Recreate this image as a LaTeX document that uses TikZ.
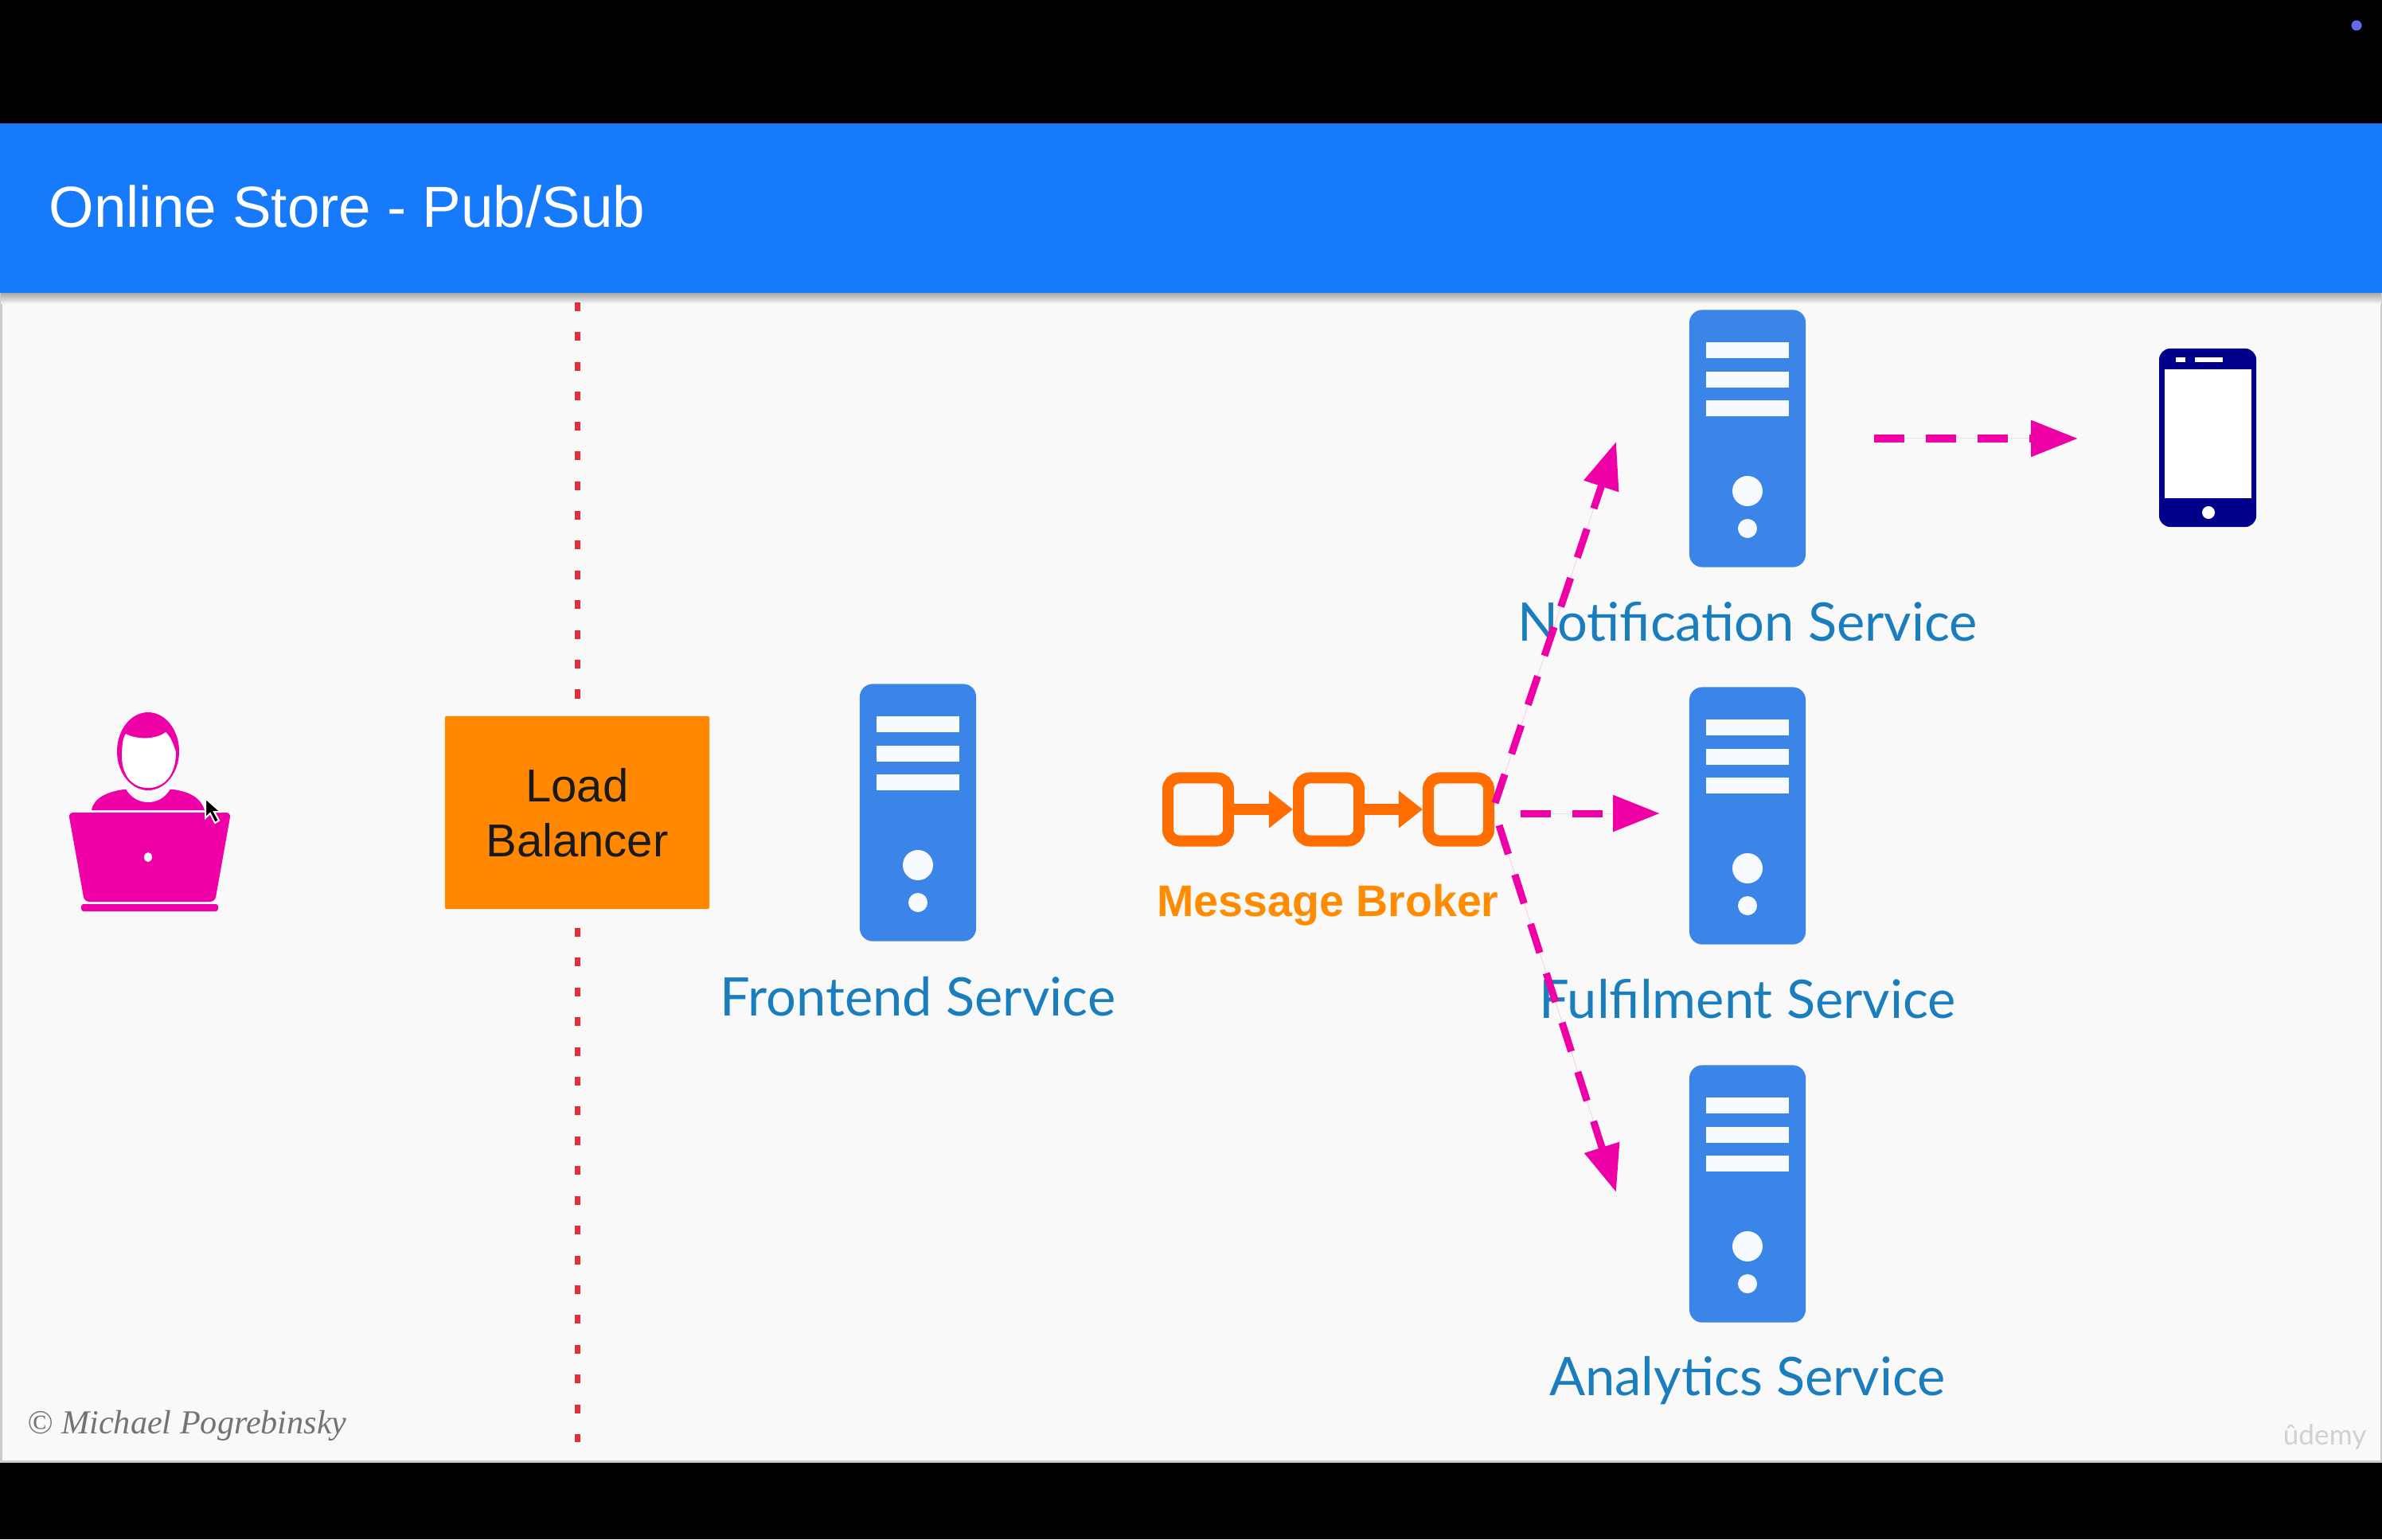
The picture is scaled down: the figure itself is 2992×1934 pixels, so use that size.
\documentclass[tikz,border=0pt]{standalone}
\usepackage{fontspec}
\usetikzlibrary{arrows.meta,shapes.geometric}
\setmainfont{Liberation Sans}
\newfontfamily\latofont{Lato}
\newfontfamily\serifit{Liberation Serif}
\definecolor{hdrblue}{HTML}{167AFA}
\definecolor{slidebg}{HTML}{F9F9F9}
\definecolor{srvblue}{HTML}{3B85E8}
\definecolor{srvtext}{HTML}{1A7DBE}
\definecolor{mbcol}{HTML}{FF6D00}
\definecolor{mbtext}{HTML}{FF8C00}
\definecolor{lbcol}{HTML}{FF8800}
\definecolor{pubcol}{HTML}{EE00A6}
\definecolor{phonecol}{HTML}{00008B}
\definecolor{dotred}{HTML}{E0303A}
\tikzstyle{server}=[rectangle,rounded corners=0.16cm,fill=srvblue,minimum width=1.46cm,minimum height=3.23cm,inner sep=0pt]
\tikzstyle{srvlabel}=[text=srvtext,font=\latofont\fontsize{19}{23}\selectfont,inner sep=0pt]
\tikzstyle{queue}=[rectangle,rounded corners=0.14cm,draw=mbcol,line width=0.14cm,minimum width=0.76cm,minimum height=0.79cm,inner sep=0pt]
\tikzstyle{qarrow}=[draw=mbcol,line width=0.14cm,-{Triangle[length=0.3cm,width=0.45cm]}]
\tikzstyle{pubarrow}=[draw=pubcol,fill=pubcol,line width=0.09cm,dash pattern=on 0.38cm off 0.27cm,-{Triangle[length=0.59cm,width=0.44cm]}]
\tikzstyle{boundary}=[draw=dotred,line width=0.07cm,dash pattern=on 0.11cm off 0.264cm]
\begin{document}
\begin{tikzpicture}[x=0.01cm,y=-0.01cm]
\useasboundingbox (0,0) rectangle (2992,1934);
\fill[black] (0,0) rectangle (2992,1934);
\fill[slidebg,draw=black!20,line width=0.03cm] (1,200) rectangle (2991,1836);
\shade[top color=black!35,bottom color=slidebg] (1,368) rectangle (2991,382);
\fill[hdrblue] (0,155) rectangle (2992,368);
\fill[color={rgb,255:red,107;green,102;blue,240}] (2960,32) circle (6.5);
\node[text=white,anchor=west,inner sep=0pt,font=\fontsize{20.7}{24}\selectfont] (title) at (61,259) {Online Store - Pub/Sub};
% boundary
\coordinate (bndtop) at (725,380);
\coordinate (bndbot) at (725,1812);
\draw[boundary] (bndtop)--(bndbot);
\node[rectangle,fill=lbcol,rounded corners=0.02cm,minimum width=3.32cm,minimum height=2.42cm,align=center,text=black!90,font=\fontsize{16.5}{19.6}\selectfont] (LB) at (725,1021) {Load\\Balancer};
% user
\fill[pubcol] (115,1018) .. controls (118,1002) and (135,995) .. (155,992) -- (218,992) .. controls (238,995) and (252,1002) .. (257,1018) -- cycle;
\fill[slidebg] (186,975) ellipse (32 and 33);
\fill[pubcol] (186,944) ellipse (39 and 49);
\fill[white] (153,950) .. controls (153,935) and (155,926) .. (158,922) .. controls (170,929) and (195,930) .. (208,920) .. controls (214,925) and (218,935) .. (221,945) .. controls (221,975) and (205,990) .. (186,990) .. controls (167,990) and (153,975) .. (153,950) -- cycle;
\fill[pubcol,rounded corners=0.06cm] (86,1021) -- (290,1021) -- (270,1133) -- (106,1133) -- cycle;
\fill[pubcol,rounded corners=0.03cm] (102,1136) rectangle (274,1145);
\fill[white] (186,1077) ellipse (5 and 6);
\fill[black,draw=white,line width=0.02cm] (258,1003) -- (258,1028) -- (264,1022) -- (270,1034) -- (275,1031) -- (269,1020) -- (277,1020) -- cycle;
% services
\foreach \n/\x/\y/\ly/\t in {FE/1153/1021/1252/Frontend Service,NS/2195/551/781/Notification Service,FS/2195/1025/1255/Fulfilment Service,AS/2195/1500/1735/Analytics Service}{
\node[server] (\n) at (\x,\y) {};
\fill[white!96!srvblue] (\x-52,\y-121) rectangle (\x+52,\y-101);
\fill[white!96!srvblue] (\x-52,\y-84) rectangle (\x+52,\y-64);
\fill[white!96!srvblue] (\x-52,\y-48) rectangle (\x+52,\y-28);
\fill[white!96!srvblue] (\x,\y+66) circle (19);
\fill[white!96!srvblue] (\x,\y+113) circle (12);
\node[srvlabel] (\n lbl) at (\x,\ly) {\t};
}
% broker
\node[queue] (qA) at (1505,1017) {};
\node[queue] (qB) at (1669,1017) {};
\node[queue] (qC) at (1832,1017) {};
\draw[qarrow] (qA)--(qB);
\draw[qarrow] (qB)--(qC);
\node[text=mbtext,inner sep=0pt,font=\bfseries\fontsize{15.8}{18}\selectfont] (MB) at (1668,1137) {Message Broker};
% phone
\node[rectangle,rounded corners=0.14cm,fill=phonecol,minimum width=1.22cm,minimum height=2.24cm,inner sep=0pt] (phone) at (2773,550) {};
\fill[white] (2719,464) rectangle (2828,626);
\fill[white] (2774,644) circle (8);
\fill[white] (2733,449) rectangle (2745,455);
\fill[white] (2757,449) rectangle (2792,455);
% pub/sub arrows
\coordinate (upS) at (1878,1009);
\coordinate (upE) at (2030,555);
\coordinate (midS) at (1910,1022);
\coordinate (midE) at (2085,1022);
\coordinate (dnS) at (1883,1037);
\coordinate (dnE) at (2030,1498);
\coordinate (phS) at (2354,551);
\coordinate (phE) at (2610,551);
\draw[pubarrow] (upS)--(upE);
\draw[pubarrow] (midS)--(midE);
\draw[pubarrow] (dnS)--(dnE);
\draw[pubarrow] (phS)--(phE);
\node[text=black!55,anchor=west,inner sep=0pt,font=\serifit\itshape\fontsize{12}{14}\selectfont] (copy) at (34,1791) {© Michael Pogrebinsky};
\node[text=black!18,anchor=east,inner sep=0pt,font=\latofont\fontsize{10}{12}\selectfont] (udemy) at (2973,1806) {ûdemy};
\end{tikzpicture}
\end{document}
